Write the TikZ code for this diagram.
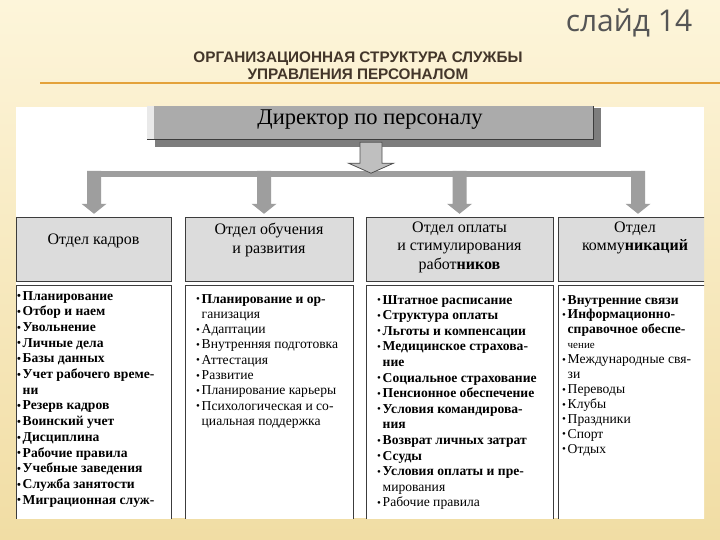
\documentclass[tikz,border=0pt]{standalone}
\usepackage{fontspec}
\setmainfont{Liberation Serif}
\newfontfamily\titlefont{Liberation Sans}
\newfontfamily\slidefont{Open Sans}
\usetikzlibrary{calc,shadows}
\definecolor{bgtop}{HTML}{FDF5DA}
\definecolor{bgbot}{HTML}{F1DDA4}
\definecolor{titlecol}{HTML}{43362A}
\definecolor{slidecol}{HTML}{555555}
\definecolor{rulecol}{HTML}{E4A23A}
\definecolor{boxline}{HTML}{3C3C3C}
\definecolor{dirgray}{HTML}{ABABAB}
\definecolor{dirshade}{HTML}{7D7D7D}
\definecolor{dirlight}{HTML}{E9E9E9}
\definecolor{hdrgray}{HTML}{DCDCDC}
\definecolor{bargray}{HTML}{9E9E9E}
\definecolor{hubfill}{HTML}{BFBFBF}
\definecolor{hubline}{HTML}{505050}
\tikzstyle{dirbox} = [draw=boxline, fill=dirgray, minimum width=446pt, minimum height=39pt, inner sep=0pt, font=\fontsize{22.5}{26}\selectfont, drop shadow={shadow xshift=8pt, shadow yshift=-8pt, fill=dirshade, opacity=1}]
\tikzstyle{hdrbox} = [draw=boxline, fill=hdrgray, minimum height=64pt, inner sep=0pt]
\tikzstyle{hdrtext} = [align=center, inner sep=0pt, font=\fontsize{16}{18.5}\selectfont]
\tikzstyle{listbox} = [draw=boxline, fill=white, minimum height=245pt, inner sep=0pt]
\tikzstyle{item} = [anchor=base west, inner sep=0pt, font=\fontsize{13.6}{15}\selectfont]
\tikzstyle{itemb} = [item, font=\fontsize{13.6}{15}\selectfont\bfseries]
\tikzstyle{bar} = [fill=bargray]
\newcommand{\blt}{\makebox[5.5pt][l]{\fontsize{11}{11}\selectfont\raisebox{0.3pt}{•}}}
\newcommand{\indt}{\hspace*{5.5pt}}

\begin{document}
\begin{tikzpicture}[x=1pt,y=-1pt]
\useasboundingbox (0,0) rectangle (720,540);
\shade[top color=bgtop, bottom color=bgbot] (0,0) rectangle (720,540);

% slide heading
\node[text=slidecol, font=\slidefont\fontsize{30}{32}\selectfont] (sld) at (629,23) {слайд 14};
\node[align=center, text=titlecol, font=\titlefont\bfseries\fontsize{15.3}{17}\selectfont] (ttl) at (358,65.5) {ОРГАНИЗАЦИОННАЯ СТРУКТУРА СЛУЖБЫ\\УПРАВЛЕНИЯ ПЕРСОНАЛОМ};
\draw[rulecol, line width=1.8pt] (40,83) -- (720,83);

\fill[white] (16,107) rectangle (704,518);
\begin{scope}
\clip (16,107) rectangle (704,518);

% director
\node[dirbox] (dir) at (370,119.5) {Директор по персоналу};
\fill[dirlight] ($(dir.north west)+(0.5,0)$) rectangle ($(dir.south west)+(7,-0.5)$);

% departments
\node[hdrbox, minimum width=155pt] (dep1) at (93.5,249) {};
\node[hdrbox, minimum width=168pt] (dep2) at (269,249) {};
\node[hdrbox, minimum width=187pt] (dep3) at (459.5,249) {};
\node[hdrbox, minimum width=154pt] (dep4) at (635,249) {};
\node[hdrtext] (hd1) at ([yshift=8pt]dep1.center) {Отдел кадров};
\node[hdrtext] (hd2) at ([yshift=9pt]dep2.center) {Отдел обучения\\и развития};
\node[hdrtext] (hd3) at ([yshift=2pt]dep3.center) {Отдел оплаты\\и стимулирования\\работ\textbf{ников}};
\node[hdrtext] (hd4) at ([yshift=11pt]dep4.center) {Отдел\\комму\textbf{никаций}};

% branches
\coordinate (tip1) at ($(dep1.north)+(0.5,-3)$);
\coordinate (tip2) at ($(dep2.north)+(-5,-3)$);
\coordinate (tip3) at ($(dep3.north)+(0,-3)$);
\coordinate (tip4) at ($(dep4.north)+(3,-3)$);
\fill[bar] ($(tip1)+(-7,-43)$) rectangle ($(tip4)+(7,-37)$);
\foreach \k in {1,...,4}
  \fill[bar] (tip\k) -- ++(-12.5,-10) -- ++(5.5,0) -- ++(0,-33) -- ++(14,0) -- ++(0,33) -- ++(5.5,0) -- cycle;
\coordinate (hub) at ($(dir.south)+(1,34)$);
\filldraw[fill=hubfill, draw=hubline, line width=0.8pt] (hub) -- ++(-22.5,-10) -- ++(11.5,0) -- ++(0,-21) -- ++(22,0) -- ++(0,21) -- ++(11.5,0) -- cycle;

% task lists
\node[listbox, minimum width=155pt] (lst1) at (93.5,407.5) {};
\node[listbox, minimum width=168pt] (lst2) at (269,407.5) {};
\node[listbox, minimum width=187pt] (lst3) at (459.5,407.5) {};
\node[listbox, minimum width=154pt] (lst4) at (635,407.5) {};

\foreach \txt [count=\i from 0] in {{\blt Планирование}, {\blt Отбор и наем}, {\blt Увольнение}, {\blt Личные дела}, {\blt Базы данных}, {\blt Учет рабочего време-}, {\indt ни}, {\blt Резерв кадров}, {\blt Воинский учет}, {\blt Дисциплина}, {\blt Рабочие правила}, {\blt Учебные заведения}, {\blt Служба занятости}, {\blt Миграционная служ-}}
  \node[itemb] (ka\i) at (17,300+15.7*\i) {\txt};

\foreach \txt [count=\i from 0] in {{\blt\textbf{Планирование и ор-}}, {\indt ганизация}, {\blt Адаптации}, {\blt Внутренняя подготовка}, {\blt Аттестация}, {\blt Развитие}, {\blt Планирование карьеры}, {\blt Психологическая и со-}, {\indt циальная поддержка}}
  \node[item] (kb\i) at (196,303+15.3*\i) {\txt};

\foreach \txt [count=\i from 0] in {{\blt\textbf{Штатное расписание}}, {\blt\textbf{Структура оплаты}}, {\blt\textbf{Льготы и компенсации}}, {\blt\textbf{Медицинское страхова-}}, {\indt\textbf{ние}}, {\blt\textbf{Социальное страхование}}, {\blt\textbf{Пенсионное обеспечение}}, {\blt\textbf{Условия командирова-}}, {\indt\textbf{ния}}, {\blt\textbf{Возврат личных затрат}}, {\blt\textbf{Ссуды}}, {\blt\textbf{Условия оплаты и пре-}}, {\indt мирования}, {\blt Рабочие правила}}
  \node[item] (kc\i) at (377,304+15.6*\i) {\txt};

\foreach \txt [count=\i from 0] in {{\blt\textbf{Внутренние связи}}, {\blt\textbf{Информационно-}}, {\indt\textbf{справочное обеспе-}}, {\indt{\fontsize{11}{13}\selectfont чение}}, {\blt Международные свя-}, {\indt зи}, {\blt Переводы}, {\blt Клубы}, {\blt Праздники}, {\blt Спорт}, {\blt Отдых}}
  \node[item] (kd\i) at (562,304+14.9*\i) {\txt};
\end{scope}
\end{tikzpicture}
\end{document}
